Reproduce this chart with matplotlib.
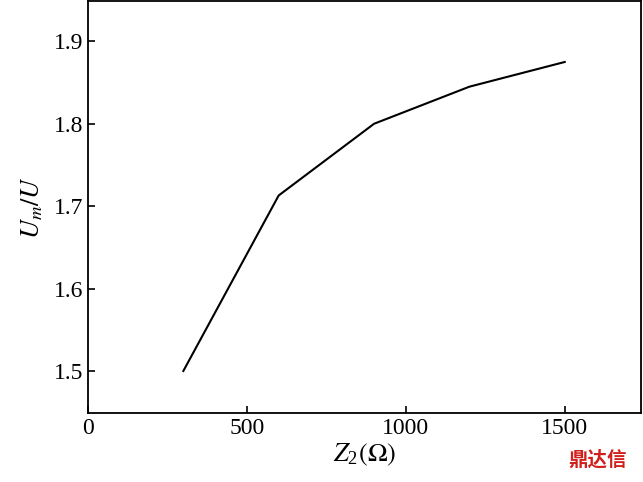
import matplotlib
matplotlib.use("Agg")
import matplotlib.pyplot as plt

z2 = [300, 600, 900, 1200, 1500]
ratio = [1.50, 1.713, 1.80, 1.845, 1.875]
xticks = [0, 500, 1000, 1500]
yticks = [1.5, 1.6, 1.7, 1.8, 1.9]

plt.rcParams['font.family'] = ['Liberation Serif', 'DejaVu Serif']
plt.rcParams['mathtext.fontset'] = 'stix'
fig = plt.figure(figsize=(6.43, 4.82), dpi=100)
ax = fig.add_axes([88/643, 69/482, 553/643, 412/482])
ax.plot(z2, ratio, color='black', lw=1.5)
ax.set_xlim(0, 1740)
ax.set_ylim(1.449, 1.949)
ax.set_xticks(xticks)
ax.set_yticks(yticks)
ax.set_yticklabels([f"{v:.1f}" for v in yticks])
ax.tick_params(direction='in', labelsize=17, length=5, width=1.2)
for s in ax.spines.values():
    s.set_linewidth(1.3)
ax.set_xlabel(r'$Z_{\mathregular{2}}(\Omega)$', fontsize=19, labelpad=2)
ax.set_ylabel(r'$U_m/U$', fontsize=19, labelpad=6)
fig.text(0.93, 0.045, '鼎达信', color='#d0201c', fontsize=14, fontweight='bold',
         family=['Noto Sans CJK SC'], ha='center', va='center')
fig.savefig('out.png', dpi=100)
